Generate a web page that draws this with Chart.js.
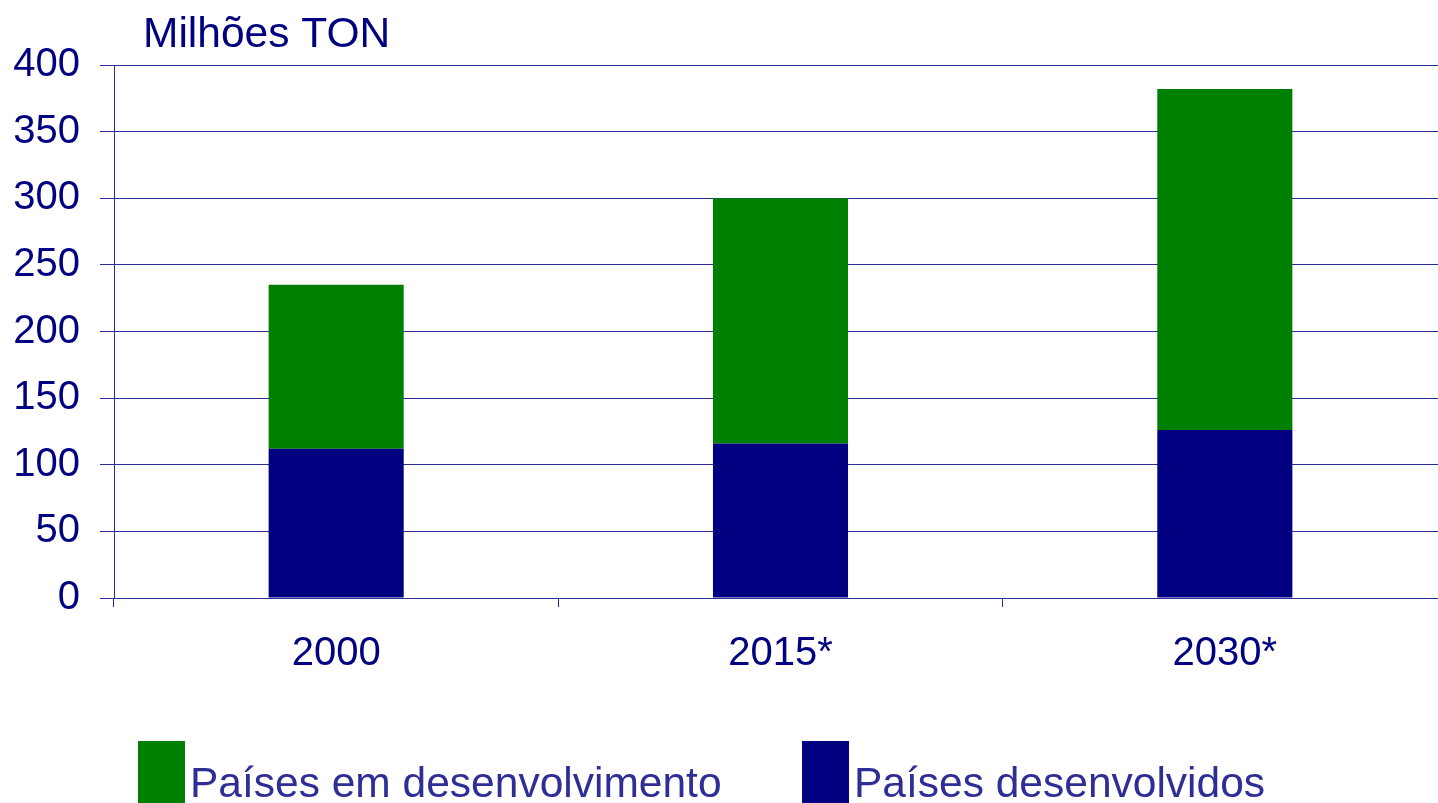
<!DOCTYPE html>
<html>
<head>
<meta charset="utf-8">
<script src="https://cdn.jsdelivr.net/npm/chart.js@4/dist/chart.umd.min.js"></script>
<style>
  html, body { margin: 0; padding: 0; background: #ffffff; overflow: hidden; }
  #wrap { width: 1438px; height: 803px; overflow: hidden; position: relative; }
  canvas { display: block; }
</style>
</head>
<body>
<div id="wrap"><canvas id="c" width="1447" height="803"></canvas></div>
<script>
const categories = ['2000', '2015*', '2030*'];
const desenvolvidos = [112, 116, 126];
const emDesenvolvimento = [123, 184, 256];
const yTicks = [0, 50, 100, 150, 200, 250, 300, 350, 400];
const unitLabel = 'Milhões TON';
const seriesNames = ['Países desenvolvidos', 'Países em desenvolvimento'];

const NAVY = '#000080';
const GREEN = '#008000';
const GRID = '#2b2b99';
const FONT = '"Liberation Sans", Arial, sans-serif';

const overlay = {
  id: 'overlay',
  afterDraw(chart) {
    const ctx = chart.ctx;
    ctx.save();
    ctx.fillStyle = NAVY;
    ctx.font = '42.5px ' + FONT;
    ctx.textBaseline = 'alphabetic';
    ctx.textAlign = 'left';
    ctx.fillText(unitLabel, 143, 47);
    const ds = chart.data.datasets.slice().reverse();
    const starts = [138, 802];
    ds.forEach((d, i) => {
      const x = starts[i];
      ctx.fillStyle = d.backgroundColor;
      ctx.fillRect(x, 741, 47, 70);
      ctx.fillStyle = '#2e2e96';
      ctx.font = '42.5px ' + FONT;
      ctx.fillText(d.label, x + 52, 797);
    });
    ctx.restore();
  }
};

new Chart(document.getElementById('c'), {
  type: 'bar',
  data: {
    labels: categories,
    datasets: [
      { label: seriesNames[0], data: desenvolvidos, backgroundColor: NAVY, borderWidth: 0 },
      { label: seriesNames[1], data: emDesenvolvimento, backgroundColor: GREEN, borderWidth: 0 }
    ]
  },
  options: {
    responsive: false,
    animation: false,
    devicePixelRatio: 1,
    layout: { padding: { left: 13, top: 65, right: 0, bottom: 205 - 80 } },
    plugins: { legend: { display: false }, title: { display: false }, tooltip: { enabled: false } },
    datasets: { bar: { barPercentage: 0.304, categoryPercentage: 1.0 } },
    scales: {
      x: {
        stacked: true,
        afterFit(axis) { axis.height = 80; },
        grid: { display: true, drawOnChartArea: false, drawTicks: true, tickLength: 9, color: GRID, lineWidth: 1, offset: true },
        border: { display: true, color: GRID, width: 1 },
        ticks: { color: NAVY, font: { family: FONT, size: 40 }, padding: 23, maxRotation: 0 }
      },
      y: {
        stacked: true,
        min: 0,
        max: 400,
        afterFit(axis) { axis.width = 101; },
        afterBuildTicks(axis) { axis.ticks = yTicks.map(v => ({ value: v })); },
        grid: { display: true, drawOnChartArea: true, drawTicks: true, tickLength: 14, color: GRID, lineWidth: 1 },
        border: { display: true, color: GRID, width: 1 },
        ticks: { color: NAVY, font: { family: FONT, size: 40 }, padding: 20 }
      }
    }
  },
  plugins: [overlay]
});
</script>
</body>
</html>
